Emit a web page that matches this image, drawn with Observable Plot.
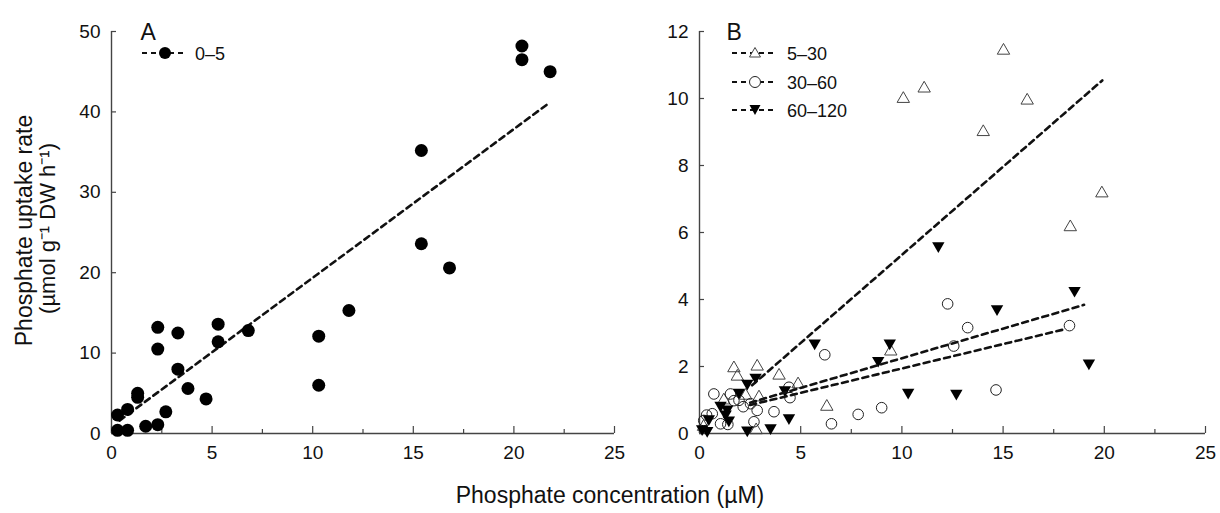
<!DOCTYPE html>
<html><head><meta charset="utf-8">
<script src="https://cdn.jsdelivr.net/npm/d3@7"></script>
<script src="https://cdn.jsdelivr.net/npm/@observablehq/plot@0.6"></script>
<style>
body{margin:0;background:#fff;font-family:"Liberation Sans",Arial,Helvetica,sans-serif;}
#wrap{position:relative;width:1220px;height:513px;overflow:hidden;}
.panel{position:absolute;top:0;}
#xtitle{position:absolute;left:0;width:1220px;top:482px;text-align:center;font-size:23px;color:#111;}
.legend{position:absolute;top:0;left:0;}
</style></head><body>
<div id="wrap">
  <div class="panel" id="pa" style="left:0"></div>
  <div class="panel" id="pb" style="left:650px"></div>
  <div id="xtitle">Phosphate concentration (µM)</div>
  <svg class="legend" width="1220" height="140" font-family="Liberation Sans, Arial, sans-serif" font-size="18">
    <g stroke="#111" stroke-width="2" stroke-dasharray="5,4">
      <line x1="142" x2="186" y1="53" y2="53"/>
      <line x1="732" x2="774" y1="53" y2="53"/>
      <line x1="732" x2="774" y1="82" y2="82"/>
      <line x1="732" x2="774" y1="110" y2="110"/>
    </g>
    <circle cx="165" cy="53" r="6" fill="#000"/>
    <path d="M755,47.5 L760.5,57 L749.5,57 Z" fill="#fff" stroke="#444" stroke-width="1"/>
    <circle cx="755" cy="82" r="5.5" fill="#fff" stroke="#222" stroke-width="1"/>
    <path d="M749.5,105 L760.5,105 L755,115 Z" fill="#000"/>
    <text x="195" y="59.5" fill="#111">0–5</text>
    <text x="787" y="59.5" fill="#111">5–30</text>
    <text x="787" y="88.5" fill="#111">30–60</text>
    <text x="787" y="116.5" fill="#111">60–120</text>
  </svg>
</div>
<script>
// ---- Panel A: 0–5 ----
const aConc = [0.3,0.8,0.3,0.8,1.3,1.3,1.7,2.3,2.7,2.3,2.3,3.3,3.3,3.8,4.7,5.3,5.3,6.8,10.3,10.3,11.8,15.4,15.4,16.8,20.4,20.4,21.8];
const aRate = [0.4,0.4,2.3,3.0,5.0,4.5,0.9,1.1,2.7,13.2,10.5,12.5,8.0,5.6,4.3,13.6,11.4,12.8,12.1,6.0,15.3,35.2,23.6,20.6,48.2,46.5,45.0];
const aFitConc = [0.4, 21.8];
const aFitRate = [1.6, 41.2];

// ---- Panel B ----
const b530Conc = [1.7,2.85,1.87,3.93,4.87,2.28,1.2,2.94,2.8,6.29,9.45,10.07,11.1,14.02,15.02,16.19,18.32,19.88,0.2];
const b530Rate = [1.95,2.0,1.7,1.73,1.47,1.13,0.99,1.08,0.1,0.8,2.45,9.99,10.3,9.0,11.43,9.94,6.16,7.17,0.2];
const b3060Conc = [0.21,0.35,0.63,0.71,1.04,1.4,1.53,1.7,1.95,2.16,2.52,2.85,2.69,3.68,4.42,4.47,6.19,6.52,7.84,9.0,12.26,12.56,13.25,14.65,18.28];
const b3060Rate = [0.39,0.55,0.59,1.18,0.29,0.27,1.18,0.98,0.99,0.8,0.89,0.69,0.35,0.65,1.38,1.07,2.35,0.29,0.57,0.77,3.87,2.61,3.16,1.3,3.22];
const b60120Conc = [0.13,0.38,0.46,1.04,1.37,1.29,1.45,1.95,2.36,2.77,2.36,3.51,4.42,4.22,5.69,8.83,9.4,10.31,11.8,12.69,14.7,18.53,19.24];
const b60120Rate = [0.14,0.09,0.44,0.84,0.73,0.58,0.4,1.23,1.5,1.68,0.1,0.17,0.47,1.3,2.7,2.18,2.7,1.23,5.6,1.2,3.72,4.27,2.1];
const bFit530Conc = [2.6, 19.9];   const bFit530Rate = [1.44, 10.54];
const bFit3060Conc = [2.5, 18.1];  const bFit3060Rate = [0.85, 3.12];
const bFit60120Conc = [2.5, 19.0]; const bFit60120Rate = [0.92, 3.84];

const xTicks = [0,5,10,15,20,25];
const xMinor = [2.5,7.5,12.5,17.5,22.5];
const aYTicks = [0,10,20,30,40,50];
const bYTicks = [0,2,4,6,8,10,12];

const zip = (xs, ys) => xs.map((x,i) => ({x, y: ys[i]}));
const AX = "#444";
const FONT = "Liberation Sans, Arial, sans-serif";

function axesMarks(yTicks, w, h, ml, mr, mt, mb) {
  const pw = w - ml - mr, ph = h - mt - mb;
  return [
    Plot.ruleY([0], {stroke: AX, strokeWidth: 1.4}),
    Plot.ruleX([0], {stroke: AX, strokeWidth: 1.4}),
    Plot.tickX(xTicks, {x: d => d, stroke: AX, strokeWidth: 1.2, insetTop: ph - 7}),
    Plot.tickX(xMinor, {x: d => d, stroke: AX, strokeWidth: 1.2, insetTop: ph - 4}),
    Plot.tickY(yTicks, {y: d => d, stroke: AX, strokeWidth: 1.2, insetRight: pw - 5}),
    Plot.axisX(xTicks, {tickSize: 0, tickPadding: 12, fontSize: 19, fill: "#111", label: null}),
    Plot.axisY(yTicks, {tickSize: 0, tickPadding: 11, fontSize: 19, fill: "#111", label: null})
  ];
}

// Panel A
{
  const w = 650, h = 470, ml = 111, mr = 36, mt = 31, mb = 37;
  const chart = Plot.plot({
    width: w, height: h, marginLeft: ml, marginRight: mr, marginTop: mt, marginBottom: mb,
    style: {fontFamily: FONT, fontSize: "19px", background: "#fff"},
    x: {domain: [0, 25]},
    y: {domain: [0, 50]},
    marks: [
      ...axesMarks(aYTicks, w, h, ml, mr, mt, mb),
      Plot.line(zip(aFitConc, aFitRate), {x: "x", y: "y", stroke: "#111", strokeWidth: 2.6, strokeDasharray: "6,4.5"}),
      Plot.dot(zip(aConc, aRate), {x: "x", y: "y", r: 6.5, fill: "#000"}),
      Plot.text(["Phosphate uptake rate"], {frameAnchor: "left", textAnchor: "middle", lineAnchor: "middle", rotate: -90, dx: -87, dy: -2, fontSize: 23, fill: "#111"}),
      Plot.text(["(µmol g⁻¹ DW h⁻¹)"], {frameAnchor: "left", textAnchor: "middle", lineAnchor: "middle", rotate: -90, dx: -64, dy: -4, fontSize: 22, fill: "#111"}),
      Plot.text(["A"], {frameAnchor: "top-left", dx: 29, dy: -8, fontSize: 23, textAnchor: "start", fill: "#111"})
    ]
  });
  document.getElementById("pa").append(chart);
}

// Panel B
{
  const w = 570, h = 470, ml = 49, mr = 15, mt = 31, mb = 37;
  const chart = Plot.plot({
    width: w, height: h, marginLeft: ml, marginRight: mr, marginTop: mt, marginBottom: mb,
    style: {fontFamily: FONT, fontSize: "19px", background: "#fff"},
    x: {domain: [0, 25]},
    y: {domain: [0, 12]},
    marks: [
      ...axesMarks(bYTicks, w, h, ml, mr, mt, mb),
      Plot.dot(zip(b530Conc, b530Rate), {x: "x", y: "y", r: 4.6, symbol: "triangle", fill: "none", stroke: "#444", strokeWidth: 1}),
      Plot.dot(zip(b3060Conc, b3060Rate), {x: "x", y: "y", r: 5.3, fill: "none", stroke: "#222", strokeWidth: 1}),
      Plot.dot(zip(b60120Conc, b60120Rate), {x: "x", y: "y", r: 4.6, symbol: "triangle", rotate: 180, fill: "#000"}),
      Plot.line(zip(bFit530Conc, bFit530Rate), {x: "x", y: "y", stroke: "#111", strokeWidth: 2.6, strokeDasharray: "6,4.5"}),
      Plot.line(zip(bFit3060Conc, bFit3060Rate), {x: "x", y: "y", stroke: "#111", strokeWidth: 2.6, strokeDasharray: "6,4.5"}),
      Plot.line(zip(bFit60120Conc, bFit60120Rate), {x: "x", y: "y", stroke: "#111", strokeWidth: 2.6, strokeDasharray: "6,4.5"}),
      Plot.text(["B"], {frameAnchor: "top-left", dx: 27, dy: -8, fontSize: 23, textAnchor: "start", fill: "#111"})
    ]
  });
  document.getElementById("pb").append(chart);
}
</script>
</body></html>
